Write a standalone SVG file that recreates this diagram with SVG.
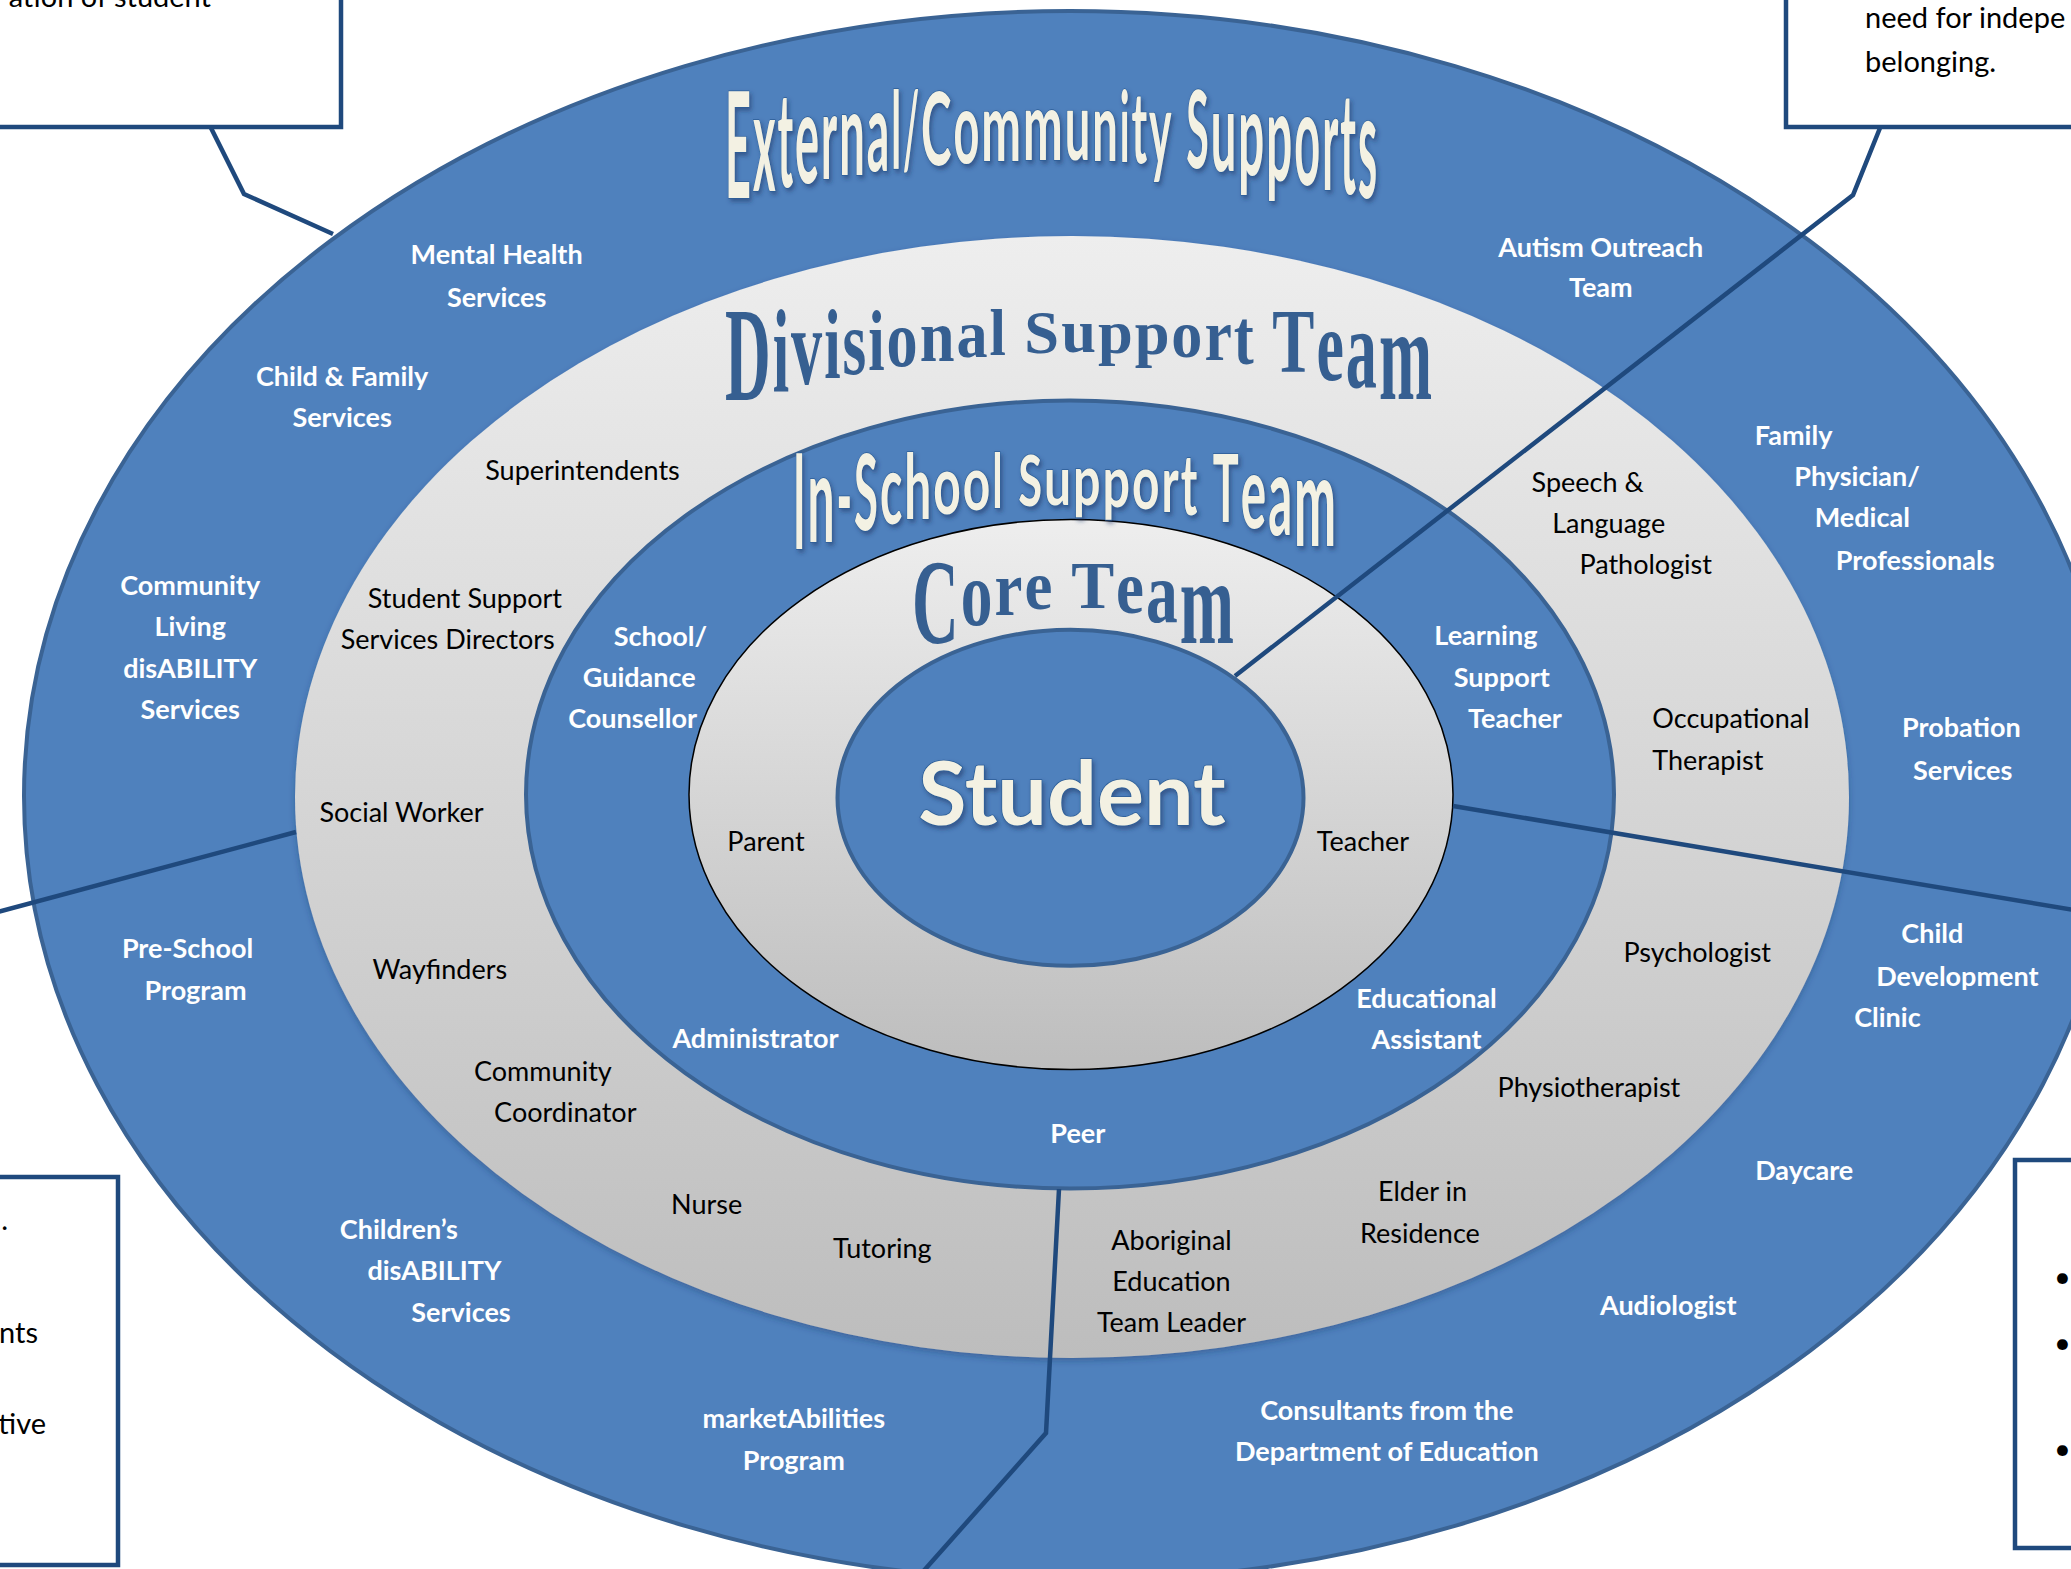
<svg xmlns="http://www.w3.org/2000/svg" width="2071" height="1569" viewBox="0 0 2071 1569">
<defs>
<linearGradient id="gray" x1="0" y1="0" x2="0" y2="1">
<stop offset="0" stop-color="#EEEEEE"/>
<stop offset="1" stop-color="#BDBDBD"/>
</linearGradient>
<filter id="soft" x="-5%" y="-5%" width="110%" height="115%">
<feDropShadow dx="0" dy="3" stdDeviation="3" flood-color="#1F3864" flood-opacity="0.35"/>
</filter>
<filter id="ts" x="-10%" y="-20%" width="120%" height="140%">
<feDropShadow dx="2" dy="3" stdDeviation="2" flood-color="#1F3864" flood-opacity="0.55"/>
</filter>
<style>
.ring{fill:#4F81BD;stroke:#3A6394;stroke-width:4}
.grayring{fill:url(#gray)}
.w{font-family:Lato,"Liberation Sans",sans-serif;font-size:27px;font-weight:700;fill:#FFFFFF;text-anchor:middle}
.b{font-family:Lato,"Liberation Sans",sans-serif;font-size:27px;fill:#000000;text-anchor:middle}
.bx{font-family:Lato,"Liberation Sans",sans-serif;font-size:29px;fill:#000000}
.box{fill:#FFFFFF;stroke:#1F497D;stroke-width:4.5}
.conn{fill:none;stroke:#1F497D;stroke-width:4.5;stroke-linejoin:miter}
.cream{font-family:Lato,"Liberation Sans",sans-serif;font-weight:700;fill:#F3F1E3;stroke:#2B5D96;stroke-width:1.5;paint-order:stroke}
.serif{font-family:"Liberation Serif","DejaVu Serif",serif;font-weight:700;fill:#365F91}
</style>
</defs>
<rect x="0" y="0" width="2071" height="1569" fill="#FFFFFF"/>

<g id="external-ring"><ellipse class="ring" cx="1070" cy="796" rx="1046" ry="785"/></g>
<g id="divisional-ring"><ellipse class="grayring" cx="1072" cy="797" rx="777" ry="561" filter="url(#soft)"/></g>
<g id="in-school-ring"><ellipse class="ring" cx="1070" cy="794.5" rx="544" ry="394"/></g>
<g id="core-ring"><ellipse class="grayring" cx="1071" cy="794.5" rx="382" ry="275" stroke="#000000" stroke-width="1.5"/></g>
<g id="student"><ellipse class="ring" cx="1070.5" cy="797.8" rx="233" ry="168"/>
<text x="1072" y="825" font-family="Lato,'Liberation Sans',sans-serif" font-size="88" font-weight="700" fill="#F3F1E3" stroke="#2B5D96" stroke-width="1.5" paint-order="stroke" text-anchor="middle" filter="url(#ts)">Student</text></g>

<g id="title-external" filter="url(#ts)"><g transform="translate(724,0) scale(0.29,1)"><text class="cream"><tspan x="3.4" y="197.6" font-size="147.3" textLength="89.3" lengthAdjust="spacingAndGlyphs">E</tspan><tspan x="99.6" y="191.4" font-size="138.6" textLength="77.6" lengthAdjust="spacingAndGlyphs">x</tspan><tspan x="184.4" y="187.1" font-size="132.6" textLength="54.1" lengthAdjust="spacingAndGlyphs">t</tspan><tspan x="245.1" y="182.8" font-size="126.6" textLength="82.8" lengthAdjust="spacingAndGlyphs">e</tspan><tspan x="334.8" y="178.9" font-size="121.2" textLength="55.5" lengthAdjust="spacingAndGlyphs">r</tspan><tspan x="397.2" y="175.2" font-size="116" textLength="87.9" lengthAdjust="spacingAndGlyphs">n</tspan><tspan x="492" y="171.5" font-size="110.9" textLength="77.6" lengthAdjust="spacingAndGlyphs">a</tspan><tspan x="576.5" y="169.2" font-size="107.7" textLength="33.8" lengthAdjust="spacingAndGlyphs">l</tspan><tspan x="617.2" y="167.5" font-size="105.3" textLength="55.5" lengthAdjust="spacingAndGlyphs">/</tspan><tspan x="679.6" y="165" font-size="101.8" textLength="104.8" lengthAdjust="spacingAndGlyphs">C</tspan><tspan x="791.3" y="162.7" font-size="98.6" textLength="89.3" lengthAdjust="spacingAndGlyphs">o</tspan><tspan x="887.5" y="160.9" font-size="96.1" textLength="136.9" lengthAdjust="spacingAndGlyphs">m</tspan><tspan x="1031.3" y="160" font-size="94.8" textLength="136.9" lengthAdjust="spacingAndGlyphs">m</tspan><tspan x="1175.1" y="160.3" font-size="95.2" textLength="87.9" lengthAdjust="spacingAndGlyphs">u</tspan><tspan x="1270" y="161.1" font-size="96.4" textLength="87.9" lengthAdjust="spacingAndGlyphs">n</tspan><tspan x="1364.4" y="162.1" font-size="97.8" textLength="33.8" lengthAdjust="spacingAndGlyphs">i</tspan><tspan x="1405.1" y="163" font-size="99" textLength="54.1" lengthAdjust="spacingAndGlyphs">t</tspan><tspan x="1465.8" y="164.6" font-size="101.3" textLength="77.6" lengthAdjust="spacingAndGlyphs">y</tspan> <tspan x="1594.4" y="168.2" font-size="106.3" textLength="77.6" lengthAdjust="spacingAndGlyphs">S</tspan><tspan x="1678.9" y="171.4" font-size="110.7" textLength="87.9" lengthAdjust="spacingAndGlyphs">u</tspan><tspan x="1773.7" y="175.4" font-size="116.3" textLength="89.3" lengthAdjust="spacingAndGlyphs">p</tspan><tspan x="1870" y="180" font-size="122.7" textLength="89.3" lengthAdjust="spacingAndGlyphs">p</tspan><tspan x="1966.5" y="185.2" font-size="130" textLength="89.3" lengthAdjust="spacingAndGlyphs">o</tspan><tspan x="2062.7" y="189.9" font-size="136.5" textLength="55.5" lengthAdjust="spacingAndGlyphs">r</tspan><tspan x="2125.1" y="193.9" font-size="142.1" textLength="54.1" lengthAdjust="spacingAndGlyphs">t</tspan><tspan x="2186.2" y="198.4" font-size="148.4" textLength="65.9" lengthAdjust="spacingAndGlyphs">s</tspan></text></g></g>

<g id="title-divisional"><g transform="translate(724,0) scale(0.45,1)"><text class="serif"><tspan x="2.2" y="399.9" font-size="132.8" textLength="101.6" lengthAdjust="spacingAndGlyphs">D</tspan><tspan x="108.2" y="390.8" font-size="119" textLength="36.4" lengthAdjust="spacingAndGlyphs">i</tspan><tspan x="149.1" y="384.3" font-size="109.2" textLength="69.1" lengthAdjust="spacingAndGlyphs">v</tspan><tspan x="222.6" y="378.5" font-size="100.5" textLength="36.4" lengthAdjust="spacingAndGlyphs">i</tspan><tspan x="263.3" y="373.9" font-size="93.5" textLength="52.7" lengthAdjust="spacingAndGlyphs">s</tspan><tspan x="320.6" y="369.9" font-size="87.4" textLength="36.4" lengthAdjust="spacingAndGlyphs">i</tspan><tspan x="361.3" y="365.6" font-size="81" textLength="69.1" lengthAdjust="spacingAndGlyphs">o</tspan><tspan x="434.9" y="360.8" font-size="73.7" textLength="77.3" lengthAdjust="spacingAndGlyphs">n</tspan><tspan x="516.6" y="357" font-size="68" textLength="69.1" lengthAdjust="spacingAndGlyphs">a</tspan><tspan x="590" y="354.9" font-size="64.8" textLength="36.4" lengthAdjust="spacingAndGlyphs">l</tspan> <tspan x="667.5" y="352.6" font-size="61.3" textLength="77.3" lengthAdjust="spacingAndGlyphs">S</tspan><tspan x="749.3" y="352" font-size="60.4" textLength="77.3" lengthAdjust="spacingAndGlyphs">u</tspan><tspan x="830.9" y="352.6" font-size="61.3" textLength="77.3" lengthAdjust="spacingAndGlyphs">p</tspan><tspan x="912.6" y="354.4" font-size="64" textLength="77.3" lengthAdjust="spacingAndGlyphs">p</tspan><tspan x="994.2" y="357.2" font-size="68.3" textLength="69.1" lengthAdjust="spacingAndGlyphs">o</tspan><tspan x="1067.8" y="360.5" font-size="73.3" textLength="60.9" lengthAdjust="spacingAndGlyphs">r</tspan><tspan x="1132.9" y="363.9" font-size="78.4" textLength="44.4" lengthAdjust="spacingAndGlyphs">t</tspan> <tspan x="1218.6" y="372.2" font-size="90.9" textLength="93.6" lengthAdjust="spacingAndGlyphs">T</tspan><tspan x="1316.6" y="379.7" font-size="102.3" textLength="60.9" lengthAdjust="spacingAndGlyphs">e</tspan><tspan x="1381.8" y="387" font-size="113.3" textLength="69.1" lengthAdjust="spacingAndGlyphs">a</tspan><tspan x="1455.3" y="398.8" font-size="131.1" textLength="118" lengthAdjust="spacingAndGlyphs">m</tspan></text></g></g>

<g id="title-in-school" filter="url(#ts)"><g transform="translate(792,0) scale(0.33,1)"><text class="cream"><tspan x="3" y="549.5" font-size="131.8" textLength="37.9" lengthAdjust="spacingAndGlyphs">I</tspan><tspan x="46.9" y="542.5" font-size="122" textLength="81.8" lengthAdjust="spacingAndGlyphs">n</tspan><tspan x="134.8" y="536.3" font-size="113.4" textLength="47.3" lengthAdjust="spacingAndGlyphs">-</tspan><tspan x="188.2" y="530.4" font-size="105.2" textLength="72.4" lengthAdjust="spacingAndGlyphs">S</tspan><tspan x="266.6" y="524.4" font-size="96.8" textLength="67.6" lengthAdjust="spacingAndGlyphs">c</tspan><tspan x="340.3" y="518.9" font-size="89.1" textLength="81.8" lengthAdjust="spacingAndGlyphs">h</tspan><tspan x="428.2" y="513.9" font-size="82.2" textLength="83.3" lengthAdjust="spacingAndGlyphs">o</tspan><tspan x="517.5" y="510" font-size="76.7" textLength="83.3" lengthAdjust="spacingAndGlyphs">o</tspan><tspan x="606.9" y="507.9" font-size="73.8" textLength="31.5" lengthAdjust="spacingAndGlyphs">l</tspan> <tspan x="685.4" y="505.8" font-size="70.8" textLength="72.4" lengthAdjust="spacingAndGlyphs">S</tspan><tspan x="763.6" y="505" font-size="69.7" textLength="81.8" lengthAdjust="spacingAndGlyphs">u</tspan><tspan x="851.5" y="505.3" font-size="70.2" textLength="83.3" lengthAdjust="spacingAndGlyphs">p</tspan><tspan x="940.9" y="506.7" font-size="72.1" textLength="83.3" lengthAdjust="spacingAndGlyphs">p</tspan><tspan x="1030.3" y="509.3" font-size="75.7" textLength="83.3" lengthAdjust="spacingAndGlyphs">o</tspan><tspan x="1119.7" y="512.2" font-size="79.8" textLength="52.1" lengthAdjust="spacingAndGlyphs">r</tspan><tspan x="1177.8" y="515" font-size="83.7" textLength="50.3" lengthAdjust="spacingAndGlyphs">t</tspan> <tspan x="1275.1" y="521.8" font-size="93.2" textLength="78.8" lengthAdjust="spacingAndGlyphs">T</tspan><tspan x="1359.7" y="528.1" font-size="102" textLength="77" lengthAdjust="spacingAndGlyphs">e</tspan><tspan x="1443" y="535" font-size="111.6" textLength="72.4" lengthAdjust="spacingAndGlyphs">a</tspan><tspan x="1521.2" y="545.6" font-size="126.4" textLength="127.3" lengthAdjust="spacingAndGlyphs">m</tspan></text></g></g>

<g id="title-core"><g transform="translate(911,0) scale(0.5,1)"><text class="serif"><tspan x="2" y="643.1" font-size="121" textLength="93.4" lengthAdjust="spacingAndGlyphs">C</tspan><tspan x="99.4" y="624.7" font-size="93.2" textLength="63.4" lengthAdjust="spacingAndGlyphs">o</tspan><tspan x="166.8" y="615" font-size="78.5" textLength="55.8" lengthAdjust="spacingAndGlyphs">r</tspan><tspan x="226.8" y="609.3" font-size="69.9" textLength="55.8" lengthAdjust="spacingAndGlyphs">e</tspan> <tspan x="320.4" y="607.8" font-size="67.6" textLength="86" lengthAdjust="spacingAndGlyphs">T</tspan><tspan x="410.2" y="613.2" font-size="75.8" textLength="55.8" lengthAdjust="spacingAndGlyphs">e</tspan><tspan x="470.2" y="622" font-size="89.1" textLength="63.4" lengthAdjust="spacingAndGlyphs">a</tspan><tspan x="537.6" y="642.7" font-size="120.4" textLength="108.4" lengthAdjust="spacingAndGlyphs">m</tspan></text></g></g>

<g id="connectors">
<polyline class="conn" points="211,128 244,194 333,234"/>
<polyline class="conn" points="1880,128 1853,195 1235,676"/>
<polyline class="conn" points="296,832 -10,914"/>
<polyline class="conn" points="1453,806 2080,911"/>
<polyline class="conn" points="1059,1189 1046,1433 920,1575"/>
</g>

<g id="box-top-left"><rect class="box" x="-10" y="-10" width="351" height="137"/><text class="bx" x="211" y="7" text-anchor="end">ation of student</text></g>
<g id="box-top-right"><rect class="box" x="1786" y="-10" width="300" height="137"/><text class="bx" x="1865" y="28">need for indepe</text><text class="bx" x="1865" y="72">belonging.</text></g>
<g id="box-bottom-left"><rect class="box" x="-10" y="1177" width="128" height="388"/><text class="bx" x="8" y="1230" text-anchor="end">.</text><text class="bx" x="38" y="1343" text-anchor="end">nts</text><text class="bx" x="46" y="1434" text-anchor="end">tive</text></g>
<g id="box-bottom-right"><rect class="box" x="2015" y="1160" width="80" height="388"/><text class="bx" x="2054" y="1287">•</text><text class="bx" x="2054" y="1353">•</text><text class="bx" x="2054" y="1459">•</text></g>

<g id="mental-health"><text class="w"><tspan x="496.6" y="264.4">Mental Health</tspan><tspan x="496.6" y="306.7">Services</tspan></text></g>
<g id="child-family"><text class="w"><tspan x="342.1" y="385.9">Child &amp; Family</tspan><tspan x="342.1" y="426.9">Services</tspan></text></g>
<g id="community-living"><text class="w"><tspan x="190.2" y="594.6">Community</tspan><tspan x="190.2" y="635.6">Living</tspan><tspan x="190.2" y="677.8">disABILITY</tspan><tspan x="190.2" y="718.8">Services</tspan></text></g>
<g id="pre-school"><text class="w"><tspan x="187.6" y="957.8">Pre-School</tspan><tspan x="195.5" y="1000.1">Program</tspan></text></g>
<g id="childrens-disability"><text class="w"><tspan x="398.9" y="1239.2">Children’s</tspan><tspan x="434.5" y="1280.1">disABILITY</tspan><tspan x="461" y="1322.4">Services</tspan></text></g>
<g id="marketabilities"><text class="w"><tspan x="793.8" y="1428">marketAbilities</tspan><tspan x="793.8" y="1470.3">Program</tspan></text></g>
<g id="consultants"><text class="w"><tspan x="1386.8" y="1420.1">Consultants from the</tspan><tspan x="1386.8" y="1461.1">Department of Education</tspan></text></g>
<g id="audiologist"><text class="w" x="1668.2" y="1314.5">Audiologist</text></g>
<g id="daycare"><text class="w" x="1804.2" y="1179.7">Daycare</text></g>
<g id="child-development"><text class="w"><tspan x="1932.3" y="943.3">Child</tspan><tspan x="1957.4" y="985.6">Development</tspan><tspan x="1887.4" y="1026.5">Clinic</tspan></text></g>
<g id="probation"><text class="w"><tspan x="1961.4" y="737.3">Probation</tspan><tspan x="1962.7" y="779.5">Services</tspan></text></g>
<g id="family-physician"><text class="w"><tspan x="1793.6" y="445.4">Family</tspan><tspan x="1857" y="486.3">Physician/</tspan><tspan x="1862.3" y="527.3">Medical</tspan><tspan x="1915.2" y="569.5">Professionals</tspan></text></g>
<g id="autism"><text class="w"><tspan x="1600.8" y="256.5">Autism Outreach</tspan><tspan x="1600.8" y="297.4">Team</tspan></text></g>

<g id="counsellor"><text class="w"><tspan x="660.4" y="646.1">School/</tspan><tspan x="639.3" y="687.1">Guidance</tspan><tspan x="632.7" y="728">Counsellor</tspan></text></g>
<g id="learning-support"><text class="w"><tspan x="1485.9" y="644.8">Learning</tspan><tspan x="1501.8" y="687.1">Support</tspan><tspan x="1515" y="728">Teacher</tspan></text></g>
<g id="educational-assistant"><text class="w"><tspan x="1426.5" y="1008">Educational</tspan><tspan x="1426.5" y="1049">Assistant</tspan></text></g>
<g id="administrator"><text class="w" x="755.5" y="1047.7">Administrator</text></g>
<g id="peer"><text class="w" x="1077.8" y="1142.7">Peer</text></g>

<g id="superintendents"><text class="b" x="582.5" y="479.7">Superintendents</text></g>
<g id="student-support-directors"><text class="b"><tspan x="464.9" y="607.8">Student Support</tspan><tspan x="447.7" y="648.8">Services Directors</tspan></text></g>
<g id="social-worker"><text class="b" x="401.5" y="821.8">Social Worker</text></g>
<g id="wayfinders"><text class="b" x="439.8" y="979">Wayfinders</text></g>
<g id="community-coordinator"><text class="b"><tspan x="542.9" y="1080.7">Community</tspan><tspan x="565.3" y="1121.6">Coordinator</tspan></text></g>
<g id="nurse"><text class="b" x="706.6" y="1214.1">Nurse</text></g>
<g id="tutoring"><text class="b" x="882.3" y="1257.7">Tutoring</text></g>
<g id="aboriginal"><text class="b"><tspan x="1171.5" y="1249.7">Aboriginal</tspan><tspan x="1171.5" y="1290.7">Education</tspan><tspan x="1171.5" y="1331.6">Team Leader</tspan></text></g>
<g id="elder"><text class="b"><tspan x="1422.5" y="1200.9">Elder in</tspan><tspan x="1419.9" y="1243.1">Residence</tspan></text></g>
<g id="physiotherapist"><text class="b" x="1588.9" y="1096.5">Physiotherapist</text></g>
<g id="psychologist"><text class="b" x="1697.2" y="961.8">Psychologist</text></g>
<g id="occupational-therapist"><text class="b" style="text-anchor:start"><tspan x="1652.3" y="728">Occupational</tspan><tspan x="1652.3" y="770.3">Therapist</tspan></text></g>
<g id="speech-language"><text class="b"><tspan x="1587.6" y="491.6">Speech &amp;</tspan><tspan x="1608.7" y="532.5">Language</tspan><tspan x="1645.7" y="573.5">Pathologist</tspan></text></g>

<g id="parent"><text class="b" x="766" y="850.8">Parent</text></g>
<g id="teacher"><text class="b" x="1363" y="850.8">Teacher</text></g>
</svg>
